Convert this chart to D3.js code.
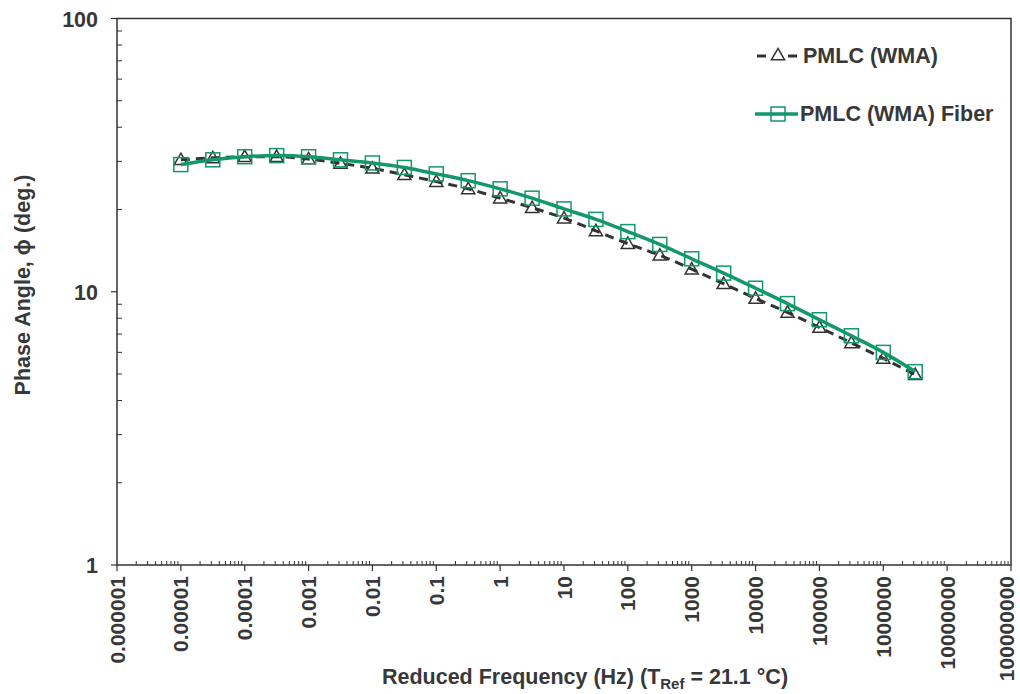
<!DOCTYPE html>
<html><head><meta charset="utf-8">
<script src="https://cdn.jsdelivr.net/npm/d3@7"></script>
<style>body{margin:0;background:#fff}svg{display:block}text{font-family:"Liberation Sans",Arial,sans-serif;font-weight:bold;fill:#383838}</style>
</head><body><svg id="c" width="1020" height="694"></svg>
<script>
const freqExp = [-5,-4.5,-4,-3.5,-3,-2.5,-2,-1.5,-1,-0.5,0,0.5,1,1.5,2,2.5,3,3.5,4,4.5,5,5.5,6,6.5];
const pmlc = [30.4,30.9,31.2,31.2,30.6,29.5,28.3,26.8,25.3,23.8,22.0,20.3,18.6,16.7,15.0,13.6,12.1,10.7,9.45,8.4,7.4,6.5,5.7,4.97];
const pmlcFiber = [29.2,30.4,31.2,31.5,31.2,30.4,29.6,28.5,27.0,25.5,23.8,22.0,20.1,18.4,16.6,14.9,13.2,11.7,10.3,9.05,7.9,6.9,6.0,5.1];
const xTickLabels = ["0.000001","0.00001","0.0001","0.001","0.01","0.1","1","10","100","1000","10000","100000","1000000","10000000","100000000"];
const yTickLabels = ["1","10","100"];
const seriesNames = ["PMLC (WMA)","PMLC (WMA) Fiber"];

const svg = d3.select("#c");
const L=117, R=1011, T=18.5, B=565;
const x = d3.scaleLog().domain([1e-6,1e8]).range([L,R]);
const y = d3.scaleLog().domain([1,100]).range([B,T]);
const green="#13986a", dark="#333";
const FS=21.5;

// frame
svg.append("rect").attr("x",L).attr("y",T).attr("width",R-L).attr("height",B-T).attr("fill","none").attr("stroke",dark).attr("stroke-width",1.5);

// x ticks
const gx = svg.append("g");
xTickLabels.forEach(t=>{
  gx.append("line").attr("x1",x(+t)).attr("x2",x(+t)).attr("y1",B).attr("y2",B+6).attr("stroke",dark).attr("stroke-width",1.2);
});
for(let e=-6;e<8;e++){for(let m=2;m<=9;m++){const v=m*Math.pow(10,e);
  gx.append("line").attr("x1",x(v)).attr("x2",x(v)).attr("y1",B).attr("y2",B-4).attr("stroke",dark).attr("stroke-width",1);}}
xTickLabels.forEach(t=>{
  const bx = Math.min(x(+t)+7.5, 1014);
  gx.append("text").attr("transform",`translate(${bx},${B+11}) rotate(-90)`).attr("text-anchor","end").attr("font-size",21).text(t);
});
// y ticks
const gy = svg.append("g");
yTickLabels.forEach(t=>{
  gy.append("line").attr("x1",L-6).attr("x2",L).attr("y1",y(+t)).attr("y2",y(+t)).attr("stroke",dark).attr("stroke-width",1.2);
  gy.append("text").attr("x",L-19).attr("y",y(+t)+8).attr("text-anchor","end").attr("font-size",FS).text(t);
});
for(let e=0;e<2;e++){for(let m=2;m<=9;m++){const v=m*Math.pow(10,e);
  gy.append("line").attr("x1",L).attr("x2",L+5).attr("y1",y(v)).attr("y2",y(v)).attr("stroke",dark).attr("stroke-width",1);}}

// titles
const xt = svg.append("text").attr("x",585).attr("y",684).attr("text-anchor","middle").attr("font-size",FS);
xt.append("tspan").text("Reduced Frequency (Hz) (T");
xt.append("tspan").attr("font-size",15).attr("dy",5).text("Ref");
xt.append("tspan").attr("dy",-5).text(" = 21.1 °C)");
svg.append("text").attr("transform","translate(30,285) rotate(-90)").attr("text-anchor","middle").attr("font-size",FS).text("Phase Angle, \u03d5 (deg.)");

// data
const d1 = freqExp.map((e,i)=>({f:Math.pow(10,e),v:pmlc[i]}));
const d2 = freqExp.map((e,i)=>({f:Math.pow(10,e),v:pmlcFiber[i]}));
const line = d3.line().x(d=>x(d.f)).y(d=>y(d.v)).curve(d3.curveMonotoneX);
svg.append("path").datum(d1).attr("d",line).attr("fill","none").attr("stroke",dark).attr("stroke-width",3).attr("stroke-dasharray","9,6");
const tri = d3.symbol().type(d3.symbolTriangle).size(75);
svg.append("g").selectAll("path").data(d1).join("path").attr("d",tri)
  .attr("transform",d=>`translate(${x(d.f)},${y(d.v)+1})`).attr("fill","none").attr("stroke",dark).attr("stroke-width",1.5);
svg.append("path").datum(d2).attr("d",line).attr("fill","none").attr("stroke",green).attr("stroke-width",3.5);
svg.append("g").selectAll("rect").data(d2).join("rect")
  .attr("x",d=>x(d.f)-7).attr("y",d=>y(d.v)-7).attr("width",14).attr("height",14).attr("fill","none").attr("stroke",green).attr("stroke-width",1.5);

// legend
const lg = svg.append("g");
lg.append("line").attr("x1",757).attr("x2",797).attr("y1",56).attr("y2",56).attr("stroke",dark).attr("stroke-width",3).attr("stroke-dasharray","9,22");
lg.append("path").attr("d",tri).attr("transform","translate(778,56)").attr("fill","#fff").attr("stroke",dark).attr("stroke-width",1.5);
lg.append("text").attr("x",803).attr("y",63).attr("font-size",FS).text(seriesNames[0]);
lg.append("line").attr("x1",755).attr("x2",798).attr("y1",114).attr("y2",114).attr("stroke",green).attr("stroke-width",3.5);
lg.append("rect").attr("x",771).attr("y",107).attr("width",14).attr("height",14).attr("fill","none").attr("stroke",green).attr("stroke-width",1.5);
lg.append("text").attr("x",800).attr("y",121).attr("font-size",FS).text(seriesNames[1]);
</script></body></html>
